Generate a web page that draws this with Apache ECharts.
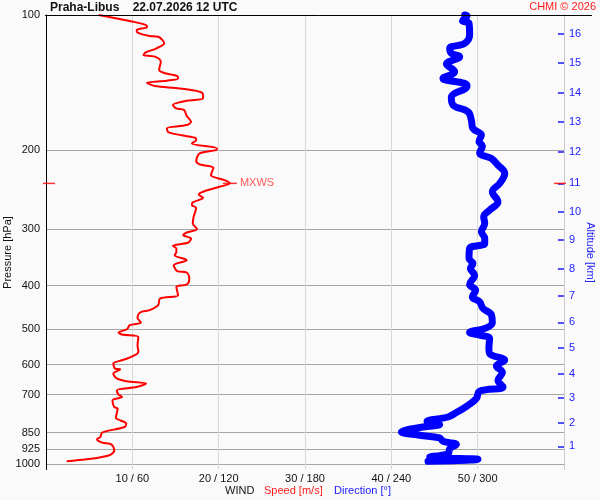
<!DOCTYPE html>
<html><head><meta charset="utf-8">
<script src="https://cdn.jsdelivr.net/npm/echarts@6/dist/echarts.min.js"></script>
<style>html,body{margin:0;padding:0;background:#fafafa}#c{width:600px;height:500px}</style>
</head><body><div id="c"></div>
<script>
// Wind speed profile [m/s] at pressure levels [hPa]
const speedPressure = [100, 103.5, 105.3, 106.5, 108.0, 109.5, 111.4, 111.8, 115.6, 118.6,
  121.3, 122.8, 123.8, 127.1, 132.6, 134.8, 136.7, 138.4, 140.0, 141.5,
  143.9, 145.7, 149.0, 153.3, 155.2, 158.6, 161.4, 162.8, 167.8, 172.8,
  175.8, 178.8, 182.5, 187.6, 189.8, 193.1, 198.1, 199.9, 203.2, 211.4,
  215.0, 218.8, 227.1, 233.1, 237.0, 241.2, 247.4, 250.8, 255.2, 261.3,
  265.0, 268.7, 281.3, 291.0, 299.6, 304.8, 309.0, 314.3, 320.8, 326.4,
  330.8, 336.7, 342.4, 351.3, 360.4, 371.7, 374.2, 385.8, 397.9, 402.8,
  420.4, 427.6, 442.5, 453.9, 459.3, 472.3, 483.5, 490.2, 500.4, 509.0,
  514.2, 520.6, 543.3, 562.2, 569.8, 581.6, 586.7, 596.7, 612.2, 614.3,
  628.1, 642.4, 653.3, 661.1, 672.7, 684.2, 699.6, 708.1, 720.3, 745.4,
  751.5, 788.7, 798.0, 811.7, 825.9, 850.0, 869.4, 879.7, 894.7, 903.9,
  930.7, 951.5, 963.1, 974.7, 984.7];
const speedValues = [6.1, 10.1, 11.6, 11.7, 10.5, 10.6, 12.0, 13.0, 13.7, 12.8,
  11.5, 11.3, 12.6, 13.3, 13.1, 13.8, 15.2, 15.3, 14.0, 11.7,
  12.6, 15.5, 18.1, 18.2, 16.3, 14.7, 15.1, 16.0, 16.3, 16.8,
  16.3, 14.0, 14.2, 17.3, 17.4, 16.9, 19.8, 19.7, 17.8, 17.4,
  17.8, 19.4, 19.1, 20.7, 21.3, 20.1, 18.2, 17.7, 18.2, 17.0,
  16.9, 17.4, 17.1, 17.0, 17.5, 16.3, 15.9, 16.8, 16.5, 14.7,
  15.1, 15.1, 14.9, 16.3, 14.8, 15.2, 16.3, 16.6, 16.3, 15.1,
  15.3, 13.2, 13.0, 12.0, 10.9, 10.6, 11.0, 9.7, 9.4, 8.4,
  8.8, 10.7, 10.6, 10.7, 10.4, 9.4, 8.8, 7.8, 8.0, 8.6,
  7.8, 8.1, 9.3, 11.6, 10.5, 8.2, 8.4, 8.8, 7.7, 7.9,
  8.3, 8.1, 8.6, 9.3, 9.1, 6.5, 6.3, 5.9, 6.5, 7.6,
  7.9, 7.5, 6.5, 4.7, 2.4];

// Wind direction profile [deg] at pressure levels [hPa]
const dirPressure = [100, 100.5, 103.0, 104.3, 110.8, 115.6, 118.6, 121.7, 123.8, 128.6,
  133.7, 138.4, 141.9, 143.9, 152.5, 158.6, 164.2, 171.3, 178.8, 185.0,
  191.5, 195.8, 202.6, 208.6, 215.8, 225.2, 237.0, 247.4, 260.5, 271.8,
  281.3, 291.0, 303.8, 314.3, 322.5, 330.8, 348.3, 357.3, 366.5, 379.4,
  397.9, 409.7, 424.0, 435.0, 450.0, 464.2, 483.5, 497.0, 509.0, 516.1,
  524.8, 552.5, 566.9, 586.7, 604.1, 624.8, 650.0, 672.7, 687.7, 714.0,
  739.0, 767.2, 784.7, 802.0, 815.9, 825.9, 847.4, 861.8, 873.8, 888.8,
  903.9, 922.6, 946.7, 963.1, 974.7, 985];
const dirValues = [291, 292.6, 289.4, 294.0, 294.4, 291.0, 280.6, 281.7, 287.5, 278.3,
  284.0, 275.9, 291.0, 292.6, 281.7, 282.8, 293.3, 295.6, 296.7, 302.6,
  300.9, 303.3, 301.4, 309.5, 314.1, 318.8, 315.3, 310.2, 314.1, 308.3,
  304.2, 304.9, 302.6, 304.9, 304.9, 294.4, 294.0, 296.7, 294.9, 297.9,
  294.4, 298.6, 296.3, 301.4, 303.7, 309.5, 310.2, 306.0, 294.4, 301.4,
  308.3, 307.8, 308.3, 318.8, 313.0, 317.2, 314.1, 317.6, 301.4, 299.1,
  293.3, 285.2, 279.4, 264.8, 273.6, 262.0, 247.0, 259.7, 273.6, 275.9,
  285.2, 280.6, 279.4, 266.7, 300.2, 265.5];

const pressureTicks = [100, 200, 300, 400, 500, 600, 700, 850, 925, 1000];
const altitudeKm = [1, 2, 3, 4, 5, 6, 7, 8, 9, 10, 11, 12, 13, 14, 15, 16];
const altitudePressure = [912, 809, 710, 628, 551, 483, 422, 368, 317, 274, 237, 202, 173, 149, 128, 110];
const speedTicks = [10, 20, 30, 40, 50];
const dirTicks = [60, 120, 180, 240, 300];
const mxwsSpeed = 21.3;
const mxwsPressure = 237;

const FONT = '"Liberation Sans", Arial, sans-serif';
const chart = echarts.init(document.getElementById('c'));
const yMin = 100, yMax = 1027;

function altLabel(v) {
  let best = 0, bd = Infinity;
  altitudePressure.forEach((p, i) => { const d = Math.abs(Math.log(p) - Math.log(v)); if (d < bd) { bd = d; best = i; } });
  return String(altitudeKm[best]);
}
function pressLabel(v) {
  let best = 0, bd = Infinity;
  pressureTicks.forEach((p, i) => { const d = Math.abs(p - v); if (d < bd) { bd = d; best = i; } });
  return String(pressureTicks[best]);
}

const option = {
  backgroundColor: '#fafafa',
  animation: false,
  textStyle: { fontFamily: FONT },
  grid: { left: 46, right: 36, top: 15, bottom: 30.5 },
  xAxis: [
    {
      type: 'value', min: 0, max: 60, interval: 10, position: 'bottom',
      axisLine: { show: false }, axisTick: { show: false },
      splitLine: { show: true, lineStyle: { color: '#d9d9d9', width: 1 } },
      axisLabel: {
        margin: 4, fontSize: 11, color: '#111', fontFamily: FONT,
        showMinLabel: false, showMaxLabel: false,
        formatter: v => { const i = speedTicks.indexOf(v); return i < 0 ? '' : speedTicks[i] + ' / ' + dirTicks[i]; }
      }
    },
    { type: 'value', min: 0, max: 360, position: 'top', show: false }
  ],
  yAxis: [
    {
      type: 'log', logBase: 10, min: yMin, max: yMax, inverse: true, position: 'left',
      axisLine: { show: true, onZero: false, lineStyle: { color: '#000', width: 1 } },
      axisTick: { show: false, customValues: pressureTicks },
      axisLabel: { customValues: pressureTicks, formatter: pressLabel, fontSize: 11, color: '#111', margin: 6, fontFamily: FONT },
      splitLine: { show: true, lineStyle: { color: '#a6a6a6', width: 1 } }
    },
    {
      type: 'log', logBase: 10, min: yMin, max: yMax, inverse: true, position: 'right',
      axisLine: { show: true, onZero: false, lineStyle: { color: '#cccccc', width: 1 } },
      axisTick: { show: true, inside: true, length: 6, customValues: altitudePressure, lineStyle: { color: '#1a1aff', width: 1.5 } },
      axisLabel: { customValues: altitudePressure, formatter: altLabel, color: '#2020ff', fontSize: 11, margin: 5, fontFamily: FONT },
      splitLine: { show: false }
    }
  ],
  series: [
    {
      name: 'Direction', type: 'line', xAxisIndex: 1, yAxisIndex: 0,
      data: dirValues.map((d, i) => [d, dirPressure[i]]),
      showSymbol: false, symbol: 'none', clip: false, smooth: 0.4,
      lineStyle: { color: '#0000ff', width: 7, cap: 'round', join: 'round' }
    },
    {
      name: 'Speed', type: 'line', xAxisIndex: 0, yAxisIndex: 0,
      data: speedValues.map((s, i) => [s, speedPressure[i]]),
      showSymbol: false, symbol: 'none', clip: false, smooth: 0.3,
      lineStyle: { color: '#ff0000', width: 2, join: 'round' }
    },
    {
      name: 'MXWS', type: 'scatter', xAxisIndex: 0, yAxisIndex: 0, clip: false,
      data: [[mxwsSpeed, mxwsPressure]],
      symbol: 'rect', symbolSize: [14, 1.5],
      itemStyle: { color: '#ff0000' },
      label: { show: true, position: 'right', distance: 3, formatter: 'MXWS', color: '#ff3030', fontSize: 11, fontFamily: FONT }
    },
    {
      name: 'MXWS-left', type: 'scatter', xAxisIndex: 0, yAxisIndex: 0, clip: false,
      data: [[0, mxwsPressure]], symbol: 'rect', symbolSize: [12, 1.5], symbolOffset: [3, 0],
      itemStyle: { color: '#ff0000' }
    },
    {
      name: 'MXWS-right', type: 'scatter', xAxisIndex: 0, yAxisIndex: 0, clip: false,
      data: [[60, mxwsPressure]], symbol: 'rect', symbolSize: [12, 1.5], symbolOffset: [-4, 0],
      itemStyle: { color: '#ff0000' }, z: 5
    }
  ],
  graphic: [
    { type: 'line', shape: { x1: 45, y1: 15.5, x2: 592, y2: 15.5 }, style: { stroke: '#000', lineWidth: 1 }, z: 10 },
    { type: 'text', x: 50, y: 8, style: { text: 'Praha-Libus    22.07.2026 12 UTC', fill: '#111', fontSize: 12, fontWeight: 'bold', fontFamily: FONT, align: 'left', verticalAlign: 'middle' } },
    { type: 'text', x: 596, y: 7, style: { text: 'CHMI © 2026', fill: '#ff1a1a', fontSize: 11, fontFamily: FONT, align: 'right', verticalAlign: 'middle' } },
    { type: 'text', x: 8, y: 252.5, rotation: Math.PI / 2, style: { text: 'Pressure [hPa]', fill: '#111', fontSize: 11, fontFamily: FONT, align: 'center', verticalAlign: 'middle' } },
    { type: 'text', x: 590, y: 252.5, rotation: -Math.PI / 2, style: { text: 'Altitude [km]', fill: '#2020ff', fontSize: 11, fontFamily: FONT, align: 'center', verticalAlign: 'middle' } },
    { type: 'text', x: 225, y: 491, style: { text: 'WIND', fill: '#111', fontSize: 11, fontFamily: FONT, align: 'left', verticalAlign: 'middle' } },
    { type: 'text', x: 264, y: 491, style: { text: 'Speed [m/s]', fill: '#ff1a1a', fontSize: 11, fontFamily: FONT, align: 'left', verticalAlign: 'middle' } },
    { type: 'text', x: 334, y: 491, style: { text: 'Direction [°]', fill: '#1a1aff', fontSize: 11, fontFamily: FONT, align: 'left', verticalAlign: 'middle' } }
  ]
};
chart.setOption(option);
</script>
</body></html>
